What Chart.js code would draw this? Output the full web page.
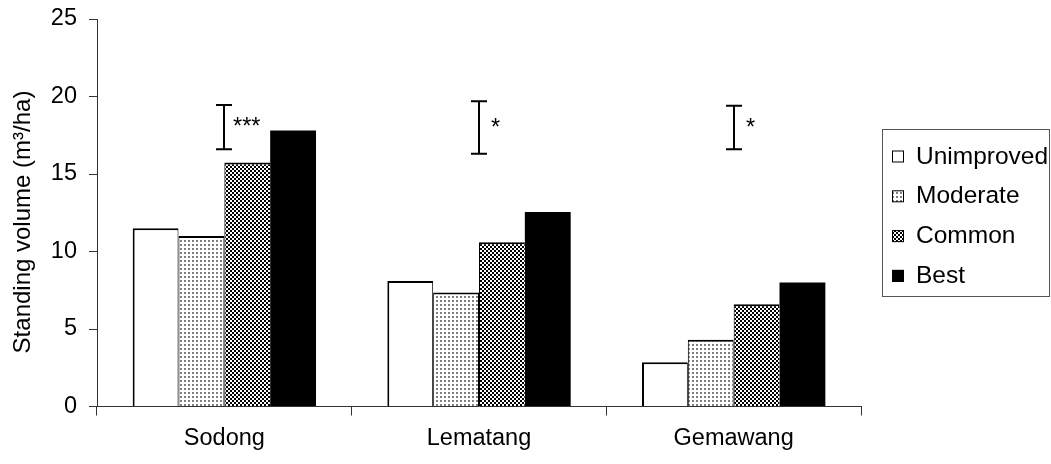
<!DOCTYPE html>
<html><head><meta charset="utf-8">
<script src="https://cdn.jsdelivr.net/npm/chart.js@4"></script>
<style>html,body{margin:0;padding:0;background:#fff}#wrap{width:1051px;height:464px;position:relative}</style>
</head><body><div id="wrap"><canvas id="c"></canvas></div>
<script>
const categories = ['Sodong', 'Lematang', 'Gemawang'];
const seriesNames = ['Unimproved', 'Moderate', 'Common', 'Best'];
const unimproved = [11.5, 8.1, 2.85];
const moderate = [11.0, 7.35, 4.3];
const common = [15.75, 10.6, 6.6];
const best = [17.8, 12.55, 8.0];
const sigLow = [16.6, 16.3, 16.6];
const sigHigh = [19.45, 19.7, 19.4];
const sigLabels = ['***', '*', '*'];
const yTicks = [0, 5, 10, 15, 20, 25];
const yTitle = 'Standing volume (m\u00B3/ha)';

const FONT = "'Liberation Sans', Arial, sans-serif";
const FS = 23.5;

function makePattern(draw, w, h) {
  const c = document.createElement('canvas');
  c.width = w; c.height = h;
  const g = c.getContext('2d');
  g.fillStyle = '#fff'; g.fillRect(0, 0, w, h);
  draw(g);
  return g.createPattern(c, 'repeat');
}
const dotFill = makePattern(g => { g.fillStyle = '#808080'; g.fillRect(0, 0, 2, 2); }, 4, 4);
const checkFill = makePattern(g => { g.fillStyle = '#000'; g.fillRect(0, 0, 2, 2); g.fillRect(2, 2, 2, 2); }, 4, 4);
const fills = ['#ffffff', dotFill, checkFill, '#000000'];
const borders = [
  {left: 2, top: 2, right: 1, bottom: 0},
  {left: 1, top: 2, right: 1, bottom: 0},
  {left: 1, top: 2, right: 0, bottom: 0},
  {left: 0, top: 0, right: 0, bottom: 0}
];
const seriesData = [unimproved, moderate, common, best];

const sigPlugin = {
  id: 'sig',
  afterDatasetsDraw(chart) {
    const {ctx, scales: {x, y}} = chart;
    ctx.save();
    ctx.strokeStyle = '#000';
    ctx.lineWidth = 2;
    ctx.fillStyle = '#000';
    ctx.font = FS + 'px ' + FONT;
    ctx.textBaseline = 'alphabetic';
    ctx.textAlign = 'left';
    categories.forEach((c, i) => {
      const cx = Math.round(x.getPixelForValue(i));
      const yl = y.getPixelForValue(sigLow[i]);
      const yh = y.getPixelForValue(sigHigh[i]);
      ctx.beginPath();
      ctx.moveTo(cx, yl); ctx.lineTo(cx, yh);
      ctx.moveTo(cx - 8, yl); ctx.lineTo(cx + 8, yl);
      ctx.moveTo(cx - 8, yh); ctx.lineTo(cx + 8, yh);
      ctx.stroke();
      ctx.fillText(sigLabels[i], cx + (i === 0 ? 9 : 12), (yl + yh) / 2 + 7);
    });
    ctx.restore();
  }
};

const legendPlugin = {
  id: 'boxLegend',
  afterDraw(chart) {
    const ctx = chart.ctx;
    ctx.save();
    // y-axis title
    ctx.fillStyle = '#000';
    ctx.font = '24px ' + FONT;
    ctx.textAlign = 'center';
    ctx.textBaseline = 'middle';
    ctx.translate(23, 222);
    ctx.rotate(-Math.PI / 2);
    ctx.fillText(yTitle, 0, 0);
    ctx.restore();

    ctx.save();
    ctx.strokeStyle = '#555';
    ctx.lineWidth = 1;
    ctx.strokeRect(882.5, 129.5, 167, 167);
    ctx.font = '24.5px ' + FONT;
    ctx.textBaseline = 'alphabetic';
    ctx.textAlign = 'left';
    chart.data.datasets.forEach((ds, i) => {
      const cy = 156.5 + i * 39.8;
      ctx.fillStyle = ds.backgroundColor;
      ctx.fillRect(892, cy - 6, 12, 12);
      ctx.strokeStyle = '#000';
      ctx.lineWidth = 1;
      ctx.strokeRect(892.5, cy - 5.5, 11, 11);
      ctx.fillStyle = '#000';
      ctx.fillText(ds.label, 916, cy + 7);
    });
    ctx.restore();
  }
};

new Chart(document.getElementById('c'), {
  type: 'bar',
  data: {
    labels: categories,
    datasets: seriesNames.map((n, i) => ({
      label: n,
      data: seriesData[i],
      backgroundColor: fills[i],
      borderColor: '#000',
      borderWidth: borders[i],
      borderSkipped: false,
      barPercentage: 1.0,
      categoryPercentage: 0.72
    }))
  },
  options: {
    responsive: true,
    maintainAspectRatio: false,
    animation: false,
    events: [],
    layout: {padding: {left: 0, right: 190, top: 19, bottom: 0}},
    plugins: {legend: {display: false}, tooltip: {enabled: false}, title: {display: false}},
    scales: {
      x: {
        grid: {display: true, drawOnChartArea: false, drawTicks: true, tickLength: 9, color: '#333', offset: true},
        border: {display: true, color: '#333', width: 1},
        ticks: {color: '#000', font: {family: FONT, size: FS}, padding: 9},
        afterFit(s) { s.height = 57.5; s.paddingLeft = 0; s.paddingRight = 0; }
      },
      y: {
        min: 0, max: 25,
        afterBuildTicks(s) { s.ticks = yTicks.map(v => ({value: v})); },
        grid: {display: true, drawOnChartArea: false, drawTicks: true, tickLength: 8, color: '#333'},
        border: {display: true, color: '#333', width: 1},
        ticks: {color: '#000', font: {family: FONT, size: FS}, padding: 12},
        title: {display: false},
        afterFit(s) { s.width = 97; s.paddingTop = 0; s.paddingBottom = 0; }
      }
    }
  },
  plugins: [sigPlugin, legendPlugin]
});
</script>
</body></html>
